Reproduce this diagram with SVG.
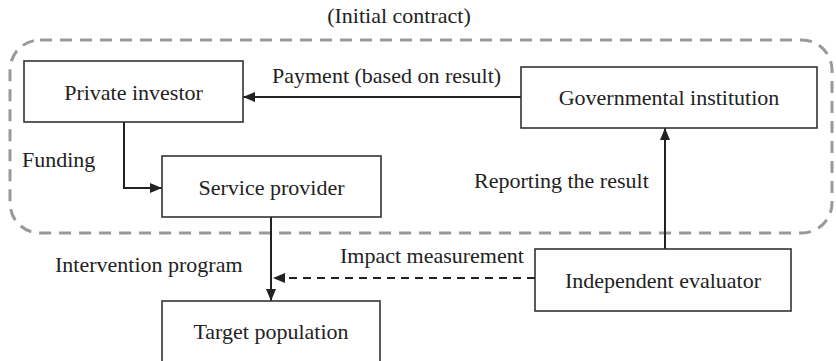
<svg xmlns="http://www.w3.org/2000/svg" width="836" height="361" viewBox="0 0 836 361">
<style>
.box{fill:#fff;stroke:#333;stroke-width:1.6}
.t{font-family:'Liberation Serif','Times New Roman',Times,'DejaVu Serif',serif;font-size:22px;fill:#222}
.m{text-anchor:middle}
.c{fill:none;stroke:#222;stroke-width:2}
.d{stroke-dasharray:8 6}
</style>
<defs>
<marker id="ah" markerWidth="12" markerHeight="10" refX="12" refY="5" orient="auto" markerUnits="userSpaceOnUse">
<path d="M0,0 L12,5 L0,10 Z" fill="#222"/>
</marker>
</defs>
<rect id="contract" x="10" y="40" width="822" height="193" rx="30" ry="30" fill="none" stroke="#999" stroke-width="3" stroke-dasharray="12 8"/>
<text class="t m" x="399" y="23" font-family="Liberation Serif, serif">(Initial contract)</text>
<g id="connectors">
<path class="c" d="M521,97 H243" marker-end="url(#ah)"/>
<path class="c" d="M124,122 V188 H162" marker-end="url(#ah)"/>
<path class="c" d="M271,217 V301" marker-end="url(#ah)"/>
<path class="c" d="M665,249 V128" marker-end="url(#ah)"/>
<path class="c d" d="M535,278 H273" marker-end="url(#ah)"/>
<text class="t" x="272" y="83">Payment (based on result)</text>
<text class="t" x="22" y="167">Funding</text>
<text class="t" x="474" y="188">Reporting the result</text>
<text class="t" x="55" y="272">Intervention program</text>
<text class="t" x="340" y="263">Impact measurement</text>
</g>
<g id="private-investor">
<rect class="box" x="24" y="61" width="219" height="61"/>
<text class="t m" x="133.5" y="100">Private investor</text>
</g>
<g id="service-provider">
<rect class="box" x="162" y="156" width="219" height="61"/>
<text class="t m" x="271.5" y="195">Service provider</text>
</g>
<g id="governmental-institution">
<rect class="box" x="521" y="67" width="296" height="61"/>
<text class="t m" x="669" y="105">Governmental institution</text>
</g>
<g id="independent-evaluator">
<rect class="box" x="535" y="249" width="256" height="62"/>
<text class="t m" x="663" y="288">Independent evaluator</text>
</g>
<g id="target-population">
<rect class="box" x="162" y="301" width="218" height="63"/>
<text class="t m" x="271" y="339">Target population</text>
</g>
</svg>
